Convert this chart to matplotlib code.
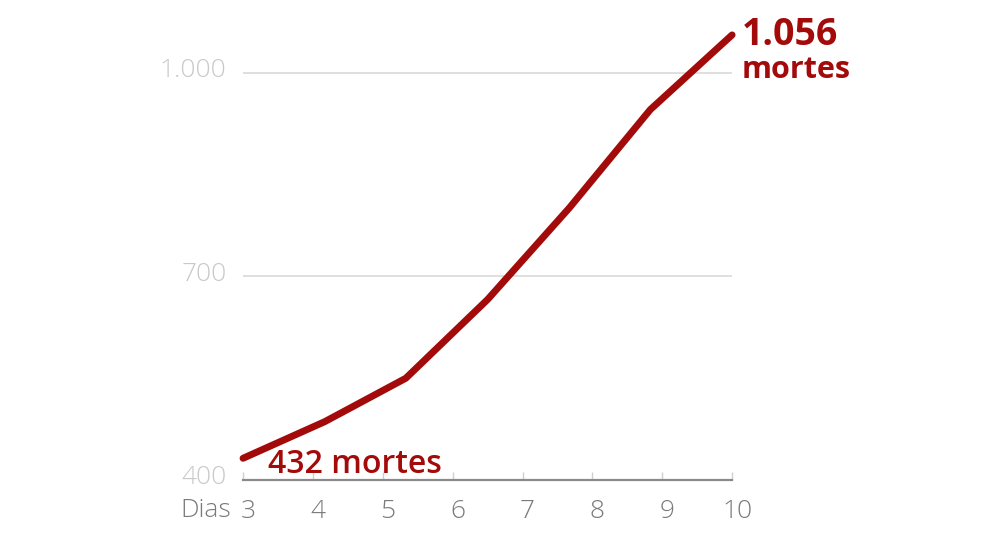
import numpy as np
import matplotlib
matplotlib.use('Agg')
from matplotlib import pyplot as plt
from matplotlib import transforms

plt.rcParams['font.family'] = ['Open Sans', 'DejaVu Sans']

# deaths curve (7 readings spread over the day axis)
dias = [3, 4.17, 5.33, 6.5, 7.67, 8.83, 10]
mortes = [432, 486, 550, 666, 801, 946, 1056]

x_ticks = [3, 4, 5, 6, 7, 8, 9, 10]
y_ticks = [400, 700, 1000]
y_labels = ['400', '700', '1.000']

red = '#a30a0a'

fig = plt.figure(figsize=(9.84, 5.49), dpi=100)
ax = fig.add_axes([0.247, 0.1257, 0.497, 0.828])

ax.plot(dias, mortes, color=red, lw=5, solid_capstyle='round',
        solid_joinstyle='round', zorder=3, clip_on=False)

ax.set_xlim(3, 10)
ax.set_ylim(400, 1070)

for s in ['top', 'right', 'left']:
    ax.spines[s].set_visible(False)
ax.spines['bottom'].set_color('#8a8a8a')
ax.spines['bottom'].set_linewidth(1.6)

ax.set_yticks(y_ticks)
ax.set_yticklabels(y_labels)
ax.yaxis.grid(True, color='#dcdcdc', lw=1.3)
ax.set_axisbelow(True)
ax.tick_params(axis='y', length=0, pad=12, labelsize=19, labelcolor='#c9c9c9')

ax.set_xticks(x_ticks)
ax.set_xticklabels([str(v) for v in x_ticks])
ax.tick_params(axis='x', direction='in', length=6, width=1, color='#cfcfcf',
               pad=14, labelsize=19, labelcolor='#7a7a7a')

# nudge labels like in the original layout
off_x = transforms.ScaledTranslation(5 / 100, 0, fig.dpi_scale_trans)
for lb in ax.get_xticklabels():
    lb.set_transform(lb.get_transform() + off_x)
off_y = transforms.ScaledTranslation(0, 5 / 100, fig.dpi_scale_trans)
for lb in ax.get_yticklabels():
    lb.set_fontweight('light')
    lb.set_transform(lb.get_transform() + off_y)
for lb in ax.get_xticklabels():
    lb.set_fontweight('light')

ax.annotate('Dias', xy=(3, 400), xytext=(-12, -31), textcoords='offset pixels',
            ha='right', va='center', fontsize=19, color='#7a7a7a',
            fontweight='light', annotation_clip=False)

ax.annotate('432 mortes', xy=(dias[0], mortes[0]), xytext=(25, -15),
            textcoords='offset pixels', ha='left', va='baseline',
            fontsize=23, fontweight='semibold', color=red)
ax.annotate('1.056', xy=(dias[-1], mortes[-1]), xytext=(10, -19),
            textcoords='offset pixels', ha='left', va='bottom',
            fontsize=27, fontweight='bold', color=red, annotation_clip=False)
ax.annotate('mortes', xy=(dias[-1], mortes[-1]), xytext=(10, -20),
            textcoords='offset pixels', ha='left', va='top',
            fontsize=22, fontweight='bold', color=red, annotation_clip=False)

fig.savefig('out.png', dpi=100, facecolor='white')
